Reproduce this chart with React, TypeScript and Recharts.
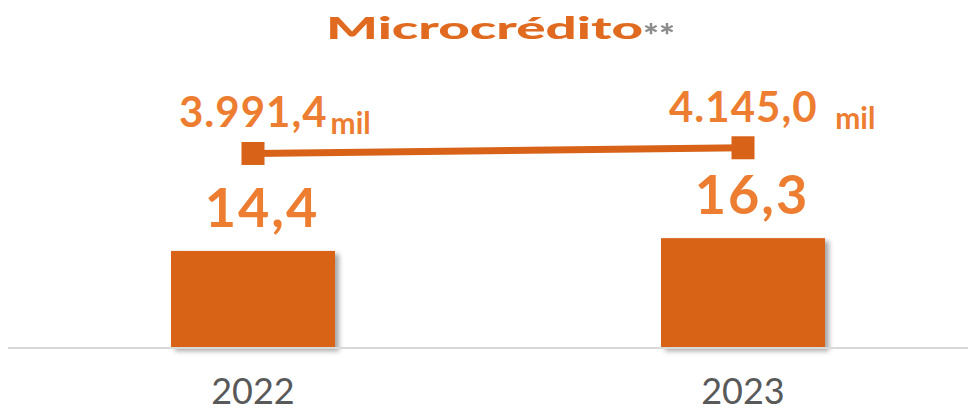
import React from 'react';
import { ComposedChart, Bar, Line, XAxis, YAxis, LabelList } from 'recharts';

const categories = ['2022', '2023'];
const barValues = [14.4, 16.3];
const barLabels = ['14,4', '16,3'];
const lineValues = [3991.4, 4145.0];
const lineLabels = ['3.991,4', '4.145,0'];
const lineUnits = ['mil', '  mil'];
const titleText = 'Microcrédito';
const titleMark = '**';

const data = categories.map((c, i) => ({ year: c, volume: barValues[i], clients: lineValues[i] }));

const BAR = '#D86318';
const LABEL = '#ED7D31';
const FONT = 'Lato, "Open Sans", sans-serif';

function measure(text: string, font: string): number {
  try {
    const ctx = document.createElement('canvas').getContext('2d');
    if (!ctx) return 0;
    ctx.font = font;
    return ctx.measureText(text).width;
  } catch (e) {
    return 0;
  }
}

const BarShape = (props: any) => {
  const { x, y, width, height, index } = props;
  const id = `barShadow${index}`;
  return (
    <g>
      <defs>
        <filter id={id} x="-20%" y="-20%" width="150%" height="150%">
          <feDropShadow dx="4" dy="3" stdDeviation="2.5" floodColor="#000" floodOpacity="0.35" />
        </filter>
      </defs>
      <rect x={x} y={y} width={width} height={height} fill={BAR} filter={`url(#${id})`} />
    </g>
  );
};

const SquareDot = (props: any) => {
  const { cx, cy, index } = props;
  return <rect key={`d${index}`} x={cx - 11.5} y={cy - 11.5} width={23} height={23} fill={BAR} />;
};

const LineLabel = (props: any) => {
  const { x, y, value } = props;
  let i = props.index;
  if (i === undefined || i === null) i = lineValues.indexOf(value);
  return (
    <text x={x - 74} y={y - 26} fill={LABEL} fontFamily={FONT} fontWeight={700} style={{ whiteSpace: 'pre' }}>
      <tspan fontSize={42} letterSpacing={1}>{lineLabels[i]}</tspan>
      <tspan fontSize={30} dx={3} dy={7}>{lineUnits[i]}</tspan>
    </text>
  );
};

const BarLabel = (props: any) => {
  const { x, y, width, value } = props;
  let i = props.index;
  if (i === undefined || i === null) i = barValues.indexOf(value);
  return (
    <text x={x + width / 2 + 9} y={y - 24} textAnchor="middle" fill={LABEL} fontFamily={FONT} fontWeight={700} fontSize={54} letterSpacing={2}>
      {barLabels[i]}
    </text>
  );
};

const Tick = (props: any) => {
  const { x, y, payload } = props;
  return (
    <text x={x} y={y} dy={48} textAnchor="middle" fill="#595959" fontFamily={FONT} fontSize={36}>
      {payload.value}
    </text>
  );
};

export default function App() {
  const titleFont = '900 31px Lato';
  const natural = measure(titleText, titleFont) || 190;
  const sx = 317 / natural;
  const markNatural = measure(titleMark, '900 32px Lato') || 20;
  const mx = 32 / markNatural;
  return (
    <div style={{ width: 968, height: 404, overflow: 'hidden', position: 'relative' }}>
      <div
        style={{
          position: 'absolute', left: 318, top: 0, whiteSpace: 'nowrap',
          fontFamily: FONT, fontWeight: 900, fontSize: 31, lineHeight: '38px', color: '#E06A1F',
          transform: `scaleX(${sx})`, transformOrigin: '0 0',
        }}
      >
        {titleText}
      </div>
      <div
        style={{
          position: 'absolute', left: 635, top: 8, whiteSpace: 'nowrap',
          fontFamily: FONT, fontWeight: 900, fontSize: 32, lineHeight: '38px', color: '#8C8C8C',
          transform: `scaleX(${mx})`, transformOrigin: '0 0',
        }}
      >
        {titleMark}
      </div>
      <ComposedChart width={980} height={404} data={data} margin={{ top: 52, right: 0, bottom: 4, left: 0 }}>
        <XAxis dataKey="year" height={60} axisLine={{ stroke: '#D9D9D9', strokeWidth: 2 }} tickLine={false} tick={<Tick />} interval={0} />
        <YAxis yAxisId="left" hide domain={[0, 42.73]} />
        <YAxis yAxisId="right" orientation="right" hide domain={[-1250, 6510]} />
        <Bar yAxisId="left" dataKey="volume" barSize={164} shape={<BarShape />} isAnimationActive={false}>
          <LabelList dataKey="volume" content={<BarLabel />} />
        </Bar>
        <Line yAxisId="right" dataKey="clients" stroke={BAR} strokeWidth={7} dot={<SquareDot />} activeDot={false} isAnimationActive={false}>
          <LabelList dataKey="clients" content={<LineLabel />} />
        </Line>
      </ComposedChart>
    </div>
  );
}
